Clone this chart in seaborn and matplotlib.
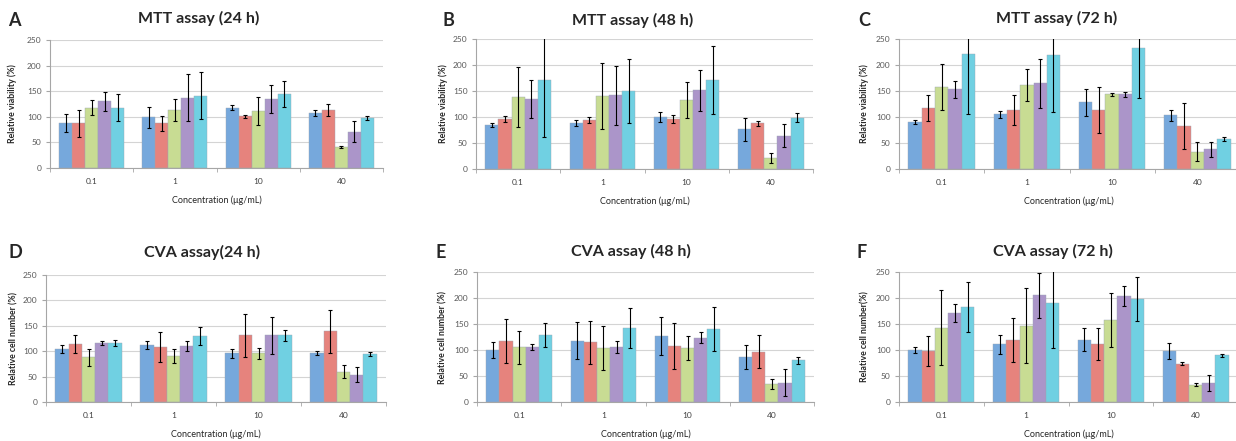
import numpy as np
import pandas as pd
import matplotlib
matplotlib.use('Agg')
import matplotlib.pyplot as plt
import seaborn as sns

# concentrations (x categories) and the five treatment series
conc = ['0.1', '1', '10', '40']
series = ['s1', 's2', 's3', 's4', 's5']
colors = ['#76a8dc', '#e6837d', '#c8dc93', '#ab95c9', '#70d0e2']

# each row = one series, columns = conc
mtt24_mean = [[88, 99, 118, 107],
              [87, 87, 101, 113],
              [118, 113, 111, 41],
              [130, 137, 135, 71],
              [118, 141, 145, 98]]
mtt24_err = [[17, 21, 5, 6],
             [26, 14, 3, 12],
             [15, 22, 27, 2],
             [18, 46, 28, 21],
             [26, 46, 25, 4]]

mtt48_mean = [[84, 88, 100, 76],
              [96, 94, 96, 88],
              [138, 140, 133, 21],
              [135, 142, 151, 64],
              [171, 150, 171, 99]]
mtt48_err = [[4, 6, 9, 23],
             [5, 6, 7, 5],
             [58, 64, 35, 10],
             [37, 57, 39, 22],
             [109, 62, 66, 9]]

mtt72_mean = [[91, 105, 128, 103],
              [117, 113, 113, 82],
              [158, 162, 144, 33],
              [153, 165, 144, 38],
              [222, 220, 232, 58]]
mtt72_err = [[4, 6, 26, 10],
             [25, 29, 44, 44],
             [44, 31, 3, 18],
             [16, 47, 5, 14],
             [117, 110, 95, 4]]

cva24_mean = [[104, 112, 96, 96],
              [114, 108, 131, 139],
              [88, 90, 96, 60],
              [116, 110, 131, 54],
              [117, 130, 131, 95]]
cva24_err = [[8, 8, 9, 4],
             [17, 30, 43, 42],
             [17, 14, 11, 12],
             [4, 10, 36, 14],
             [6, 17, 10, 4]]

cva48_mean = [[100, 118, 127, 86],
              [117, 115, 108, 97],
              [105, 104, 104, 35],
              [106, 106, 124, 37],
              [128, 142, 140, 80]]
cva48_err = [[16, 35, 36, 23],
             [42, 41, 44, 31],
             [32, 43, 23, 10],
             [6, 11, 10, 26],
             [23, 38, 42, 6]]

cva72_mean = [[100, 111, 120, 98],
              [98, 119, 111, 74],
              [143, 147, 158, 33],
              [171, 205, 204, 37],
              [182, 191, 198, 90]]
cva72_err = [[6, 18, 22, 16],
             [29, 43, 31, 2],
             [72, 72, 52, 3],
             [18, 43, 19, 15],
             [48, 87, 43, 3]]

panels = [
    ('A', 'MTT assay (24 h)', 'Relative viability (%)', mtt24_mean, mtt24_err),
    ('B', 'MTT assay (48 h)', 'Relative viability (%)', mtt48_mean, mtt48_err),
    ('C', 'MTT assay (72 h)', 'Relative viability (%)', mtt72_mean, mtt72_err),
    ('D', 'CVA assay(24 h)', 'Relative cell number (%)', cva24_mean, cva24_err),
    ('E', 'CVA assay (48 h)', 'Relative cell number (%)', cva48_mean, cva48_err),
    ('F', 'CVA assay (72 h)', 'Relative cell number(%)', cva72_mean, cva72_err),
]

# axes boxes in pixels: left, right, top, bottom
W, H = 1236, 441
boxes = [(50, 383, 40, 168), (476, 813, 39, 169), (899, 1240, 39, 169),
         (46, 386, 275, 402), (477, 814, 272, 402), (899, 1238, 272, 402)]
letter_pos = [(8, 20), (442, 20), (858, 20), (8, 253), (436, 253), (857, 253)]
title_pos = [(199, 18), (633, 20), (1057, 18), (202, 252), (631, 251), (1053, 251)]
ylab_x = [12, 443, 864, 14, 443, 865]

sns.set_style('white')
plt.rcParams['font.family'] = ['Lato', 'DejaVu Sans']

fig = plt.figure(figsize=(W / 100, H / 100), dpi=100)

for k, (letter, title, ylab, mean, err) in enumerate(panels):
    l, r, t, b = boxes[k]
    ax = fig.add_axes([l / W, 1 - b / H, (r - l) / W, (b - t) / H])

    df = pd.DataFrame({
        'conc': np.tile(conc, len(series)),
        'series': np.repeat(series, len(conc)),
        'value': np.ravel(mean),
    })
    sns.barplot(data=df, x='conc', y='value', hue='series', order=conc,
                hue_order=series, palette=colors, width=0.78, errorbar=None,
                legend=False, ax=ax, edgecolor='#9aa6b2', linewidth=0.3,
                saturation=1)

    bar_groups = list(ax.containers)
    for i, cont in enumerate(bar_groups):
        xs = [p.get_x() + p.get_width() / 2 for p in cont.patches]
        hs = [p.get_height() for p in cont.patches]
        ax.errorbar(xs, hs, yerr=err[i], fmt='none', ecolor='black',
                    elinewidth=0.8, capsize=1.6, capthick=0.8, zorder=5)

    ax.set_ylim(0, 250)
    ax.set_xlim(-0.5, len(conc) - 0.5)
    ax.set_yticks(range(0, 251, 50))
    ax.yaxis.grid(True, color='#d4d4d4', lw=0.8)
    ax.set_axisbelow(True)
    for s in ['top', 'right']:
        ax.spines[s].set_visible(False)
    for s in ['left', 'bottom']:
        ax.spines[s].set_color('#a6a6a6')
        ax.spines[s].set_linewidth(0.8)
    ax.set_xticks(np.arange(-0.5, len(conc), 1.0), minor=True)
    ax.tick_params(axis='x', which='major', length=0, pad=7,
                   labelsize=6, labelcolor='#404040')
    ax.tick_params(axis='x', which='minor', length=3, color='#a6a6a6',
                   direction='out', bottom=True)
    ax.tick_params(axis='y', length=3, color='#a6a6a6', direction='out',
                   left=True, labelsize=6, labelcolor='#595959', pad=3)
    ax.set_xlabel('')
    ax.set_ylabel('')

    fig.text(ylab_x[k] / W, 1 - ((t + b) / 2) / H, ylab, rotation=90,
             ha='center', va='center', fontsize=6.3, fontweight='bold')
    fig.text(((l + r) / 2 if k not in (2, 5) else (l + 1236 + 2) / 2) / W,
             1 - (b + 32) / H, 'Concentration (μg/mL)',
             ha='center', va='center', fontsize=6.5)
    fig.text(title_pos[k][0] / W, 1 - title_pos[k][1] / H, title,
             ha='center', va='center', fontsize=11.5, fontweight='bold')
    fig.text(letter_pos[k][0] / W, 1 - letter_pos[k][1] / H, letter,
             ha='left', va='center', fontsize=13, fontweight='bold')

fig.savefig('out.png', dpi=100)
